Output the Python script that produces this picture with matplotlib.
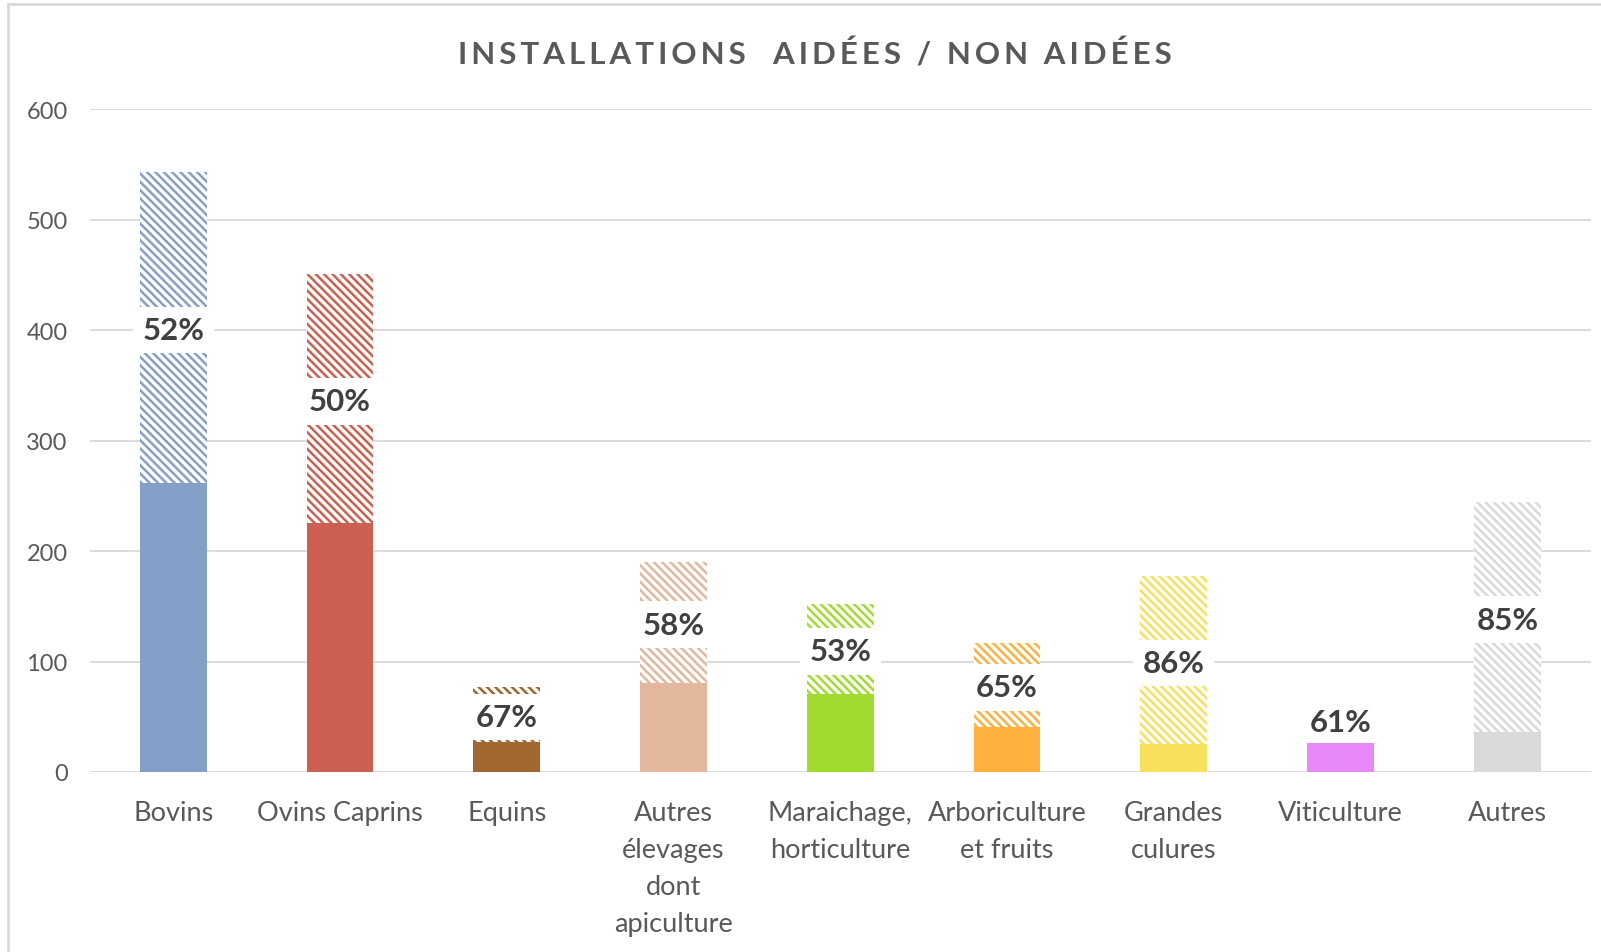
import matplotlib.pyplot as plt
from matplotlib.patches import Rectangle

categories = [
    "Bovins",
    "Ovins Caprins",
    "Equins",
    "Autres\nélevages\ndont\napiculture",
    "Maraichage,\nhorticulture",
    "Arboriculture\net fruits",
    "Grandes\nculures",
    "Viticulture",
    "Autres",
]
aidees = [262, 225, 27, 81, 71, 41, 25, 26, 36]
non_aidees = [281, 226, 50, 109, 81, 76, 152, 0, 208]
pourcentages = ["52%", "50%", "67%", "58%", "53%", "65%", "86%", "61%", "85%"]
couleurs = ["#849FC8", "#CD5F50", "#A0672F", "#E3B79C", "#A0DB2E",
            "#FFB03F", "#F8E05A", "#E688F7", "#D9D9D9"]
titre = "INSTALLATIONS  AIDÉES / NON AIDÉES"

plt.rcParams["font.family"] = ["Lato", "DejaVu Sans"]
plt.rcParams["hatch.linewidth"] = 1.8

fig = plt.figure(figsize=(16.01, 9.53), dpi=100)
ax = fig.add_axes([0.0561, 0.1889, 0.9375, 0.6954])

x = list(range(len(categories)))
largeur = 0.40

ax.bar(x, aidees, width=largeur, color=couleurs, linewidth=0, zorder=2)
for i in x:
    if non_aidees[i] > 0:
        ax.bar(i, non_aidees[i], bottom=aidees[i], width=largeur,
               facecolor="white", edgecolor=couleurs[i], hatch="\\\\\\\\",
               linewidth=0, zorder=2)

for i in x:
    if non_aidees[i] > 0:
        ax.text(i, aidees[i] + non_aidees[i] / 2, pourcentages[i],
                ha="center", va="center_baseline", fontsize=22.5,
                fontweight="bold", color="#404040", zorder=4,
                bbox=dict(boxstyle="square,pad=0.3", fc="white", ec="none"))
    else:
        ax.annotate(pourcentages[i], (i, aidees[i]), xytext=(0, 17),
                    textcoords="offset points", ha="center",
                    va="center_baseline", fontsize=22.5, fontweight="bold",
                    color="#404040", zorder=4)

ax.set_xlim(-0.5, len(categories) - 0.5)
ax.set_ylim(0, 600)
ax.set_yticks(range(0, 601, 100))
ax.set_xticks(x)
ax.set_xticklabels(categories, linespacing=1.6)
ax.tick_params(axis="both", length=0, labelcolor="#595959")
ax.tick_params(axis="y", pad=16, labelsize=17)
ax.tick_params(axis="x", pad=20, labelsize=19.5)
ax.grid(axis="y", color="#D9D9D9", linewidth=1.3, zorder=0)
ax.set_axisbelow(True)
for spine in ax.spines.values():
    spine.set_visible(False)

# titre avec espacement des lettres (espaces fines entre chaque caractère)
titre_espace = "\u200a\u200a".join(titre)
fig.text(0.509, 0.943, titre_espace,
         ha="center", va="center", fontsize=22.5, fontweight="bold",
         color="#595959")

# bordure grise du cadre (haut et gauche)
fig.patches.append(Rectangle((0.005, -0.5), 2, 1.4948, transform=fig.transFigure,
                             fill=False, edgecolor="#D9D9D9", linewidth=2))

fig.savefig("out.png", dpi=100)
plt.close(fig)
